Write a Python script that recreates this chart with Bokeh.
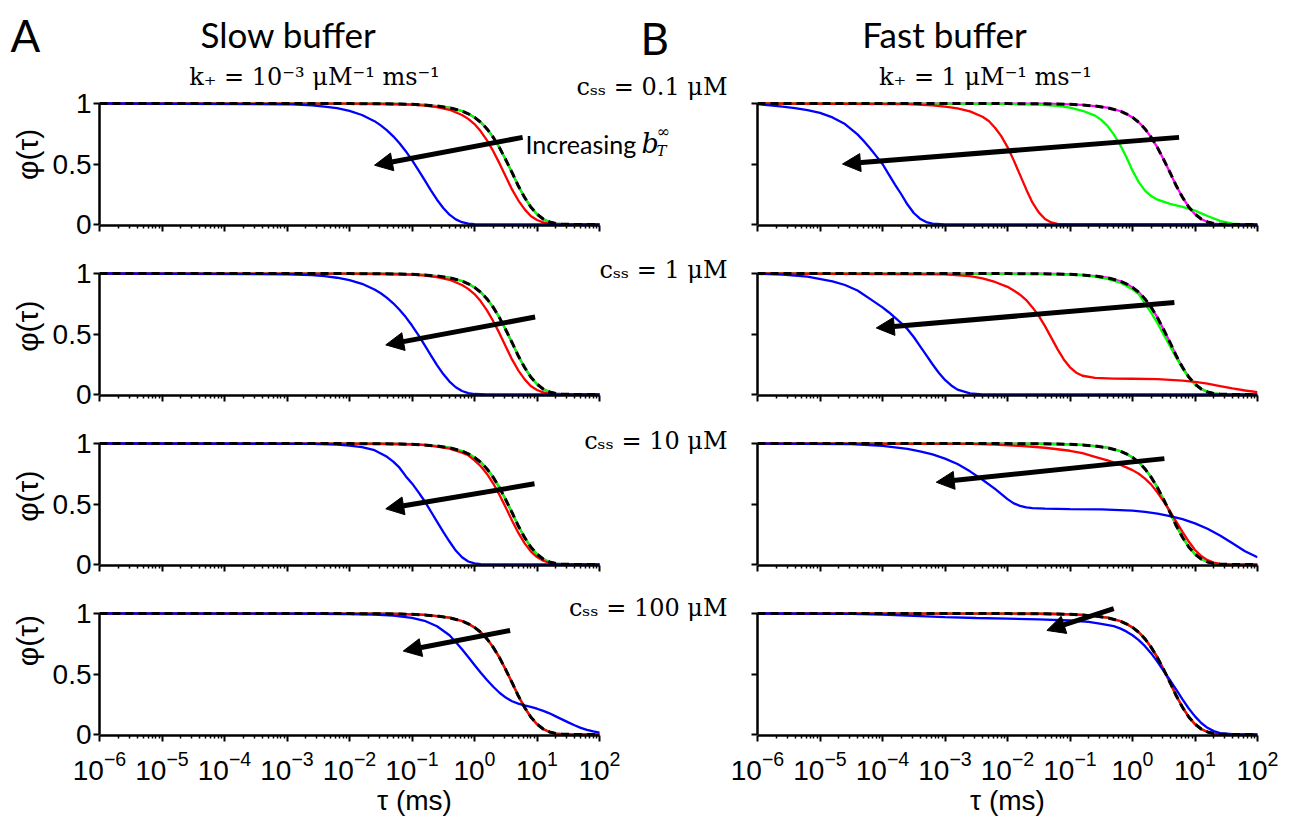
from bokeh.plotting import figure
from bokeh.models import Range1d, FixedTicker, Label, Arrow, NormalHead, NumeralTickFormatter
from bokeh.layouts import column, row
from bokeh.embed import file_html
from bokeh.resources import INLINE

# ---------------- data (log10 tau in ms, phi) ----------------
X_TICKS = [1e-6, 1e-5, 1e-4, 1e-3, 1e-2, 1e-1, 1e0, 1e1, 1e2]
Y_TICKS = [0, 0.5, 1]

BLACK_T = [-6, -2.0, -1.5, -1.2, -1.0, -0.8, -0.6, -0.4, -0.2, -0.1, 0.0, 0.1, 0.2, 0.3, 0.4, 0.5,
           0.6, 0.7, 0.8, 0.9, 1.0, 1.1, 1.2, 1.3, 1.4, 1.6, 2.0]
BLACK_PHI = [1.0, 0.999, 0.998, 0.996, 0.993, 0.988, 0.979, 0.965, 0.938, 0.915, 0.885, 0.845, 0.79,
             0.72, 0.635, 0.535, 0.43, 0.32, 0.225, 0.145, 0.085, 0.045, 0.021, 0.008, 0.003, 0.0, 0.0]

A1_BLUE_T = [-6, -3.0, -2.6, -2.4, -2.2, -2.0, -1.8, -1.6, -1.5, -1.4, -1.3, -1.2, -1.1, -1.0, -0.9,
             -0.8, -0.7, -0.6, -0.5, -0.4, -0.3, -0.2, -0.1, 0.0, 0.2, 2.0]
A1_BLUE = [1.0, 0.994, 0.984, 0.975, 0.961, 0.939, 0.905, 0.854, 0.819, 0.778, 0.729, 0.672, 0.606,
           0.532, 0.452, 0.368, 0.284, 0.205, 0.136, 0.081, 0.042, 0.019, 0.007, 0.002, 0.0, 0.0]
A2_BLUE_T = A1_BLUE_T
A2_BLUE = [1.0, 0.994, 0.986, 0.978, 0.965, 0.945, 0.915, 0.868, 0.837, 0.799, 0.754, 0.701, 0.640,
           0.570, 0.493, 0.410, 0.326, 0.243, 0.169, 0.107, 0.060, 0.029, 0.012, 0.004, 0.0, 0.0]
A3_BLUE_T = [-6, -2.6, -2.2, -2.0, -1.8, -1.6, -1.4, -1.3, -1.2, -1.1, -1.0, -0.9, -0.8, -0.7, -0.6,
             -0.5, -0.4, -0.3, -0.2, -0.1, 0.0, 0.1, 0.2, 2.0]
A3_BLUE = [1.0, 0.997, 0.99, 0.983, 0.97, 0.945, 0.89, 0.85, 0.80, 0.73, 0.67, 0.60, 0.525, 0.44,
           0.355, 0.27, 0.19, 0.115, 0.06, 0.025, 0.009, 0.003, 0.0, 0.0]
A4_BLUE_T = [-6, -3.0, -2.5, -2.0, -1.6, -1.3, -1.0, -0.8, -0.6, -0.4, -0.3, -0.2, -0.1, 0.0, 0.1,
             0.2, 0.3, 0.4, 0.5, 0.6, 0.7, 0.8, 0.9, 1.0, 1.1, 1.2, 1.3, 1.4, 1.5, 1.6, 1.7, 1.8, 1.9, 2.0]
A4_BLUE = [1.0, 0.999, 0.998, 0.995, 0.99, 0.982, 0.963, 0.94, 0.895, 0.82, 0.765, 0.705, 0.64, 0.575,
           0.51, 0.45, 0.395, 0.345, 0.305, 0.275, 0.255, 0.24, 0.228, 0.213, 0.195, 0.175, 0.15,
           0.125, 0.1, 0.076, 0.055, 0.038, 0.025, 0.015]

A_RED_T = [-6, -2.0, -1.2, -1.0, -0.8, -0.6, -0.4, -0.2, -0.1, 0.0, 0.1, 0.2, 0.3, 0.4, 0.5, 0.6, 0.7,
           0.8, 0.9, 1.0, 1.1, 1.2, 1.3, 1.5, 2.0]
A1_RED = [1.0, 0.999, 0.994, 0.990, 0.983, 0.970, 0.948, 0.905, 0.873, 0.83, 0.77, 0.695, 0.605,
          0.505, 0.397, 0.29, 0.20, 0.127, 0.07, 0.037, 0.017, 0.006, 0.002, 0.0, 0.0]
A2_RED = A1_RED
A3_RED = [1.0, 0.999, 0.996, 0.994, 0.986, 0.975, 0.958, 0.925, 0.903, 0.861, 0.812, 0.748, 0.669,
          0.575, 0.472, 0.364, 0.263, 0.177, 0.109, 0.061, 0.031, 0.013, 0.005, 0.0, 0.0]

B1_BLUE_T = [-6, -5.8, -5.6, -5.4, -5.2, -5.0, -4.8, -4.6, -4.4, -4.3, -4.2, -4.1, -4.0, -3.9, -3.8,
             -3.7, -3.6, -3.5, -3.4, -3.3, -3.2, -3.0, -2.8, 2.0]
B1_BLUE = [0.994, 0.985, 0.975, 0.962, 0.945, 0.922, 0.885, 0.83, 0.745, 0.69, 0.63, 0.565, 0.50,
           0.415, 0.33, 0.25, 0.165, 0.095, 0.048, 0.02, 0.007, 0.001, 0.0, 0.0]
B1_RED_T = [-6, -3.6, -3.2, -3.0, -2.8, -2.6, -2.4, -2.3, -2.2, -2.1, -2.0, -1.9, -1.8, -1.7, -1.6,
            -1.5, -1.4, -1.3, -1.2, -1.0, 2.0]
B1_RED = [1.0, 0.995, 0.985, 0.975, 0.96, 0.935, 0.89, 0.855, 0.80, 0.73, 0.64, 0.53, 0.41, 0.29,
          0.18, 0.10, 0.045, 0.017, 0.005, 0.0, 0.0]
B1_GREEN_T = [-6, -2.0, -1.5, -1.2, -1.0, -0.8, -0.6, -0.5, -0.4, -0.3, -0.2, -0.1, 0.0, 0.1, 0.2,
              0.3, 0.4, 0.6, 0.8, 1.0, 1.2, 1.4, 1.6, 1.8, 2.0]
B1_GREEN = [1.0, 0.997, 0.99, 0.98, 0.965, 0.94, 0.90, 0.865, 0.815, 0.745, 0.66, 0.56, 0.445, 0.35,
            0.28, 0.235, 0.205, 0.17, 0.145, 0.115, 0.07, 0.03, 0.008, 0.001, 0.0]

B2_BLUE_T = [-6, -5.6, -5.2, -4.8, -4.6, -4.4, -4.2, -4.0, -3.9, -3.8, -3.7, -3.6, -3.5, -3.4, -3.3,
             -3.2, -3.1, -3.0, -2.9, -2.8, -2.6, -2.4, 2.0]
B2_BLUE = [0.998, 0.99, 0.975, 0.935, 0.905, 0.86, 0.79, 0.72, 0.68, 0.635, 0.59, 0.54, 0.475, 0.40,
           0.325, 0.25, 0.18, 0.12, 0.075, 0.04, 0.01, 0.0, 0.0]
B2_RED_T = [-6, -3.0, -2.6, -2.4, -2.2, -2.0, -1.9, -1.8, -1.7, -1.6, -1.5, -1.4, -1.3, -1.2, -1.1,
            -1.0, -0.9, -0.8, -0.6, -0.3, 0.0, 0.4, 0.8, 1.0, 1.2, 1.4, 1.6, 1.8, 2.0]
B2_RED = [1.0, 0.993, 0.978, 0.96, 0.93, 0.89, 0.86, 0.825, 0.78, 0.72, 0.65, 0.565, 0.47, 0.375,
          0.29, 0.225, 0.18, 0.155, 0.138, 0.132, 0.13, 0.127, 0.115, 0.105, 0.09, 0.07, 0.05, 0.033, 0.02]
B2_GREEN_T = [-6, -1.5, -1.0, -0.8, -0.6, -0.4, -0.2, 0.0, 0.1, 0.2, 0.3, 0.4, 0.5, 0.6, 0.7, 0.8,
              0.9, 1.0, 1.1, 1.2, 1.3, 1.4, 1.6, 2.0]
B2_GREEN = [1.0, 0.997, 0.99, 0.985, 0.975, 0.955, 0.925, 0.87, 0.83, 0.75, 0.675, 0.59, 0.495, 0.40,
            0.305, 0.215, 0.14, 0.085, 0.048, 0.024, 0.01, 0.004, 0.0, 0.0]

B3_BLUE_T = [-6, -4.5, -4.0, -3.6, -3.4, -3.2, -3.0, -2.8, -2.6, -2.4, -2.2, -2.0, -1.9, -1.8, -1.7,
             -1.6, -1.4, -1.0, -0.5, 0.0, 0.2, 0.4, 0.6, 0.8, 1.0, 1.2, 1.4, 1.6, 1.8, 2.0]
B3_BLUE = [1.0, 0.995, 0.98, 0.955, 0.935, 0.91, 0.875, 0.83, 0.77, 0.70, 0.625, 0.54, 0.505, 0.485,
           0.472, 0.466, 0.461, 0.458, 0.455, 0.445, 0.435, 0.42, 0.40, 0.375, 0.34, 0.295, 0.24,
           0.175, 0.11, 0.06]
B3_RED_T = [-6, -2.6, -2.2, -1.8, -1.4, -1.0, -0.8, -0.6, -0.4, -0.2, 0.0, 0.1, 0.2, 0.3, 0.4, 0.5,
            0.6, 0.7, 0.8, 0.9, 1.0, 1.1, 1.2, 1.3, 1.4, 1.6, 2.0]
B3_RED = [1.0, 0.997, 0.99, 0.98, 0.965, 0.94, 0.92, 0.89, 0.86, 0.825, 0.78, 0.75, 0.71, 0.66, 0.595,
          0.52, 0.44, 0.355, 0.27, 0.19, 0.12, 0.07, 0.036, 0.016, 0.006, 0.001, 0.0]

B4_BLUE_T = [-6, -4.5, -4.0, -3.5, -3.0, -2.5, -2.0, -1.5, -1.0, -0.7, -0.5, -0.3, -0.2, -0.1, 0.0,
             0.1, 0.2, 0.3, 0.4, 0.5, 0.6, 0.7, 0.8, 0.9, 1.0, 1.1, 1.2, 1.3, 1.4, 1.6, 2.0]
B4_BLUE = [1.0, 0.997, 0.99, 0.98, 0.97, 0.963, 0.957, 0.951, 0.942, 0.93, 0.915, 0.895, 0.877, 0.852,
           0.82, 0.78, 0.73, 0.67, 0.60, 0.525, 0.45, 0.37, 0.29, 0.215, 0.15, 0.095, 0.055, 0.028,
           0.012, 0.002, 0.0]

# arrows: (log tau tail, phi tail, log tau tip, phi tip)
ARROWS_A = [(0.77, 0.72, -1.6, 0.49), (0.97, 0.64, -1.42, 0.41), (0.96, 0.667, -1.42, 0.46),
            (0.57, 0.86, -1.14, 0.69)]
ARROWS_B = [(0.745, 0.72, -4.64, 0.50), (0.67, 0.76, -4.10, 0.55), (0.51, 0.875, -3.14, 0.68),
            (-0.30, 1.04, -1.37, 0.86)]

CSS_LABELS = ["c\u209b\u209b = 0.1 \u03bcM", "c\u209b\u209b = 1 \u03bcM",
              "c\u209b\u209b = 10 \u03bcM", "c\u209b\u209b = 100 \u03bcM"]

# ---------------- layout geometry (screenshot pixels) ----------------
ROW_TOP = [0, 239, 409, 579]      # canvas top of each row
Y1_PX = [103, 273, 443, 613]      # pixel row of phi = 1
PX_PER_PHI = 121
BOTTOM = [14, 14, 14, 85]         # bottom border (x axis)
STRIP_W = 46                      # 0 .. 46
LEFT_MB, LEFT_FW = 53, 630        # left figure: frame 99 .. 729
RIGHT_MB, RIGHT_FW, RIGHT_MR = 28, 500, 32   # right figure: frame 757 .. 1257
FL = [99, 757]
DEC_PX = 62.5

MAG, GRN, RED, BLU = "#ff00ff", "#00ff00", "#ff0000", "#0000ff"


def taus(lt):
    return [10.0 ** v for v in lt]


def y_range_for(r):
    frame_bottom = Y1_PX[r] + PX_PER_PHI + 1
    top = 1 + (Y1_PX[r] - ROW_TOP[r]) / PX_PER_PHI
    bot = -1.0 / PX_PER_PHI
    return Range1d(bot, top), int(frame_bottom - ROW_TOP[r])


def to_data(px, py, col, r):
    return 10.0 ** (-6 + (px - FL[col]) / DEC_PX), 1 - (py - Y1_PX[r]) / PX_PER_PHI


def label(p, x, y, text, size, font="Lato", align="left", baseline="alphabetic", style="normal", angle=0):
    p.add_layout(Label(x=x, y=y, text=text, text_font=font, text_font_size=f"{size}px",
                       text_align=align, text_baseline=baseline, text_font_style=style,
                       angle=angle, angle_units="deg", text_color="black"))


def text_at(p, col, r, px, py, text, size, **kw):
    x, y = to_data(px, py, col, r)
    label(p, x, y, text, size, **kw)


def style_axes(p, col, r):
    p.grid.visible = False
    p.outline_line_color = None
    minor = [m * 10.0 ** e for e in range(-6, 2) for m in range(2, 10)]
    p.xaxis.ticker = FixedTicker(ticks=X_TICKS, minor_ticks=minor)
    p.xaxis.bounds = (1e-6, 1e2)
    p.yaxis.ticker = FixedTicker(ticks=Y_TICKS)
    p.yaxis.bounds = (0, 1)
    p.yaxis.formatter = NumeralTickFormatter(format="0.[0]")
    for ax in (p.xaxis[0], p.yaxis[0]):
        ax.axis_line_width = 2.5
        ax.axis_line_color = "black"
        ax.major_tick_line_width = 2
        ax.major_tick_line_color = "black"
        ax.major_tick_in = 0
        ax.major_tick_out = 6
        ax.minor_tick_in = 0
        ax.minor_tick_out = 3
        ax.minor_tick_line_width = 1.5
        ax.minor_tick_line_color = "black"
    p.yaxis.minor_tick_line_color = None
    p.xaxis.major_label_text_font = "Liberation Sans"
    if r == 3:
        p.xaxis.major_label_text_font_size = "28px"
        p.xaxis.major_label_text_color = "black"
        p.xaxis.major_label_standoff = 9
        p.xaxis.axis_label = "\u03c4 (ms)"
        p.xaxis.axis_label_text_font = "Liberation Sans"
        p.xaxis.axis_label_text_font_size = "28px"
        p.xaxis.axis_label_text_font_style = "normal"
        p.xaxis.axis_label_text_color = "black"
        p.xaxis.axis_label_standoff = 2
    else:
        p.xaxis.major_label_text_font_size = "2px"
        p.xaxis.major_label_text_alpha = 0
        p.xaxis.major_label_standoff = 0
    p.yaxis.major_label_text_font = "Liberation Sans"
    if col == 0:
        p.yaxis.major_label_text_font_size = "28px"
        p.yaxis.major_label_text_color = "black"
        p.yaxis.major_label_standoff = 2
    else:
        p.yaxis.major_label_text_font_size = "2px"
        p.yaxis.major_label_text_alpha = 0
        p.yaxis.major_label_standoff = 0


def make_fig(col, r):
    yr, fh = y_range_for(r)
    if col == 0:
        xr = Range1d(1e-6, 10 ** (2 + (LEFT_FW - 500) / DEC_PX))
        mbl, fw, mbr = LEFT_MB, LEFT_FW, 0
    else:
        xr = Range1d(1e-6, 1e2)
        mbl, fw, mbr = RIGHT_MB, RIGHT_FW, RIGHT_MR
    p = figure(width=mbl + fw + mbr, height=fh + BOTTOM[r], x_axis_type="log",
               x_range=xr, y_range=yr,
               min_border_left=mbl, min_border_right=mbr, min_border_top=0, min_border_bottom=BOTTOM[r],
               output_backend="svg", toolbar_location=None, tools="")
    style_axes(p, col, r)
    return p


def draw(p, curves, arrow):
    for color, lt, ph in curves:
        p.line(taus(lt), ph, line_color=color, line_width=2.3)
    p.line(taus(BLACK_T), BLACK_PHI, line_color="black", line_width=3, line_dash="8 5")
    t0, p0, t1, p1 = arrow
    p.add_layout(Arrow(end=NormalHead(size=18, fill_color="black", line_color="black", line_width=1),
                       x_start=10 ** t0, y_start=p0, x_end=10 ** t1, y_end=p1,
                       line_width=5, line_color="black"))


def plain_fig(x0, x1, y0, y1):
    p = figure(width=int(x1 - x0), height=int(y1 - y0), x_range=Range1d(x0, x1), y_range=Range1d(y1, y0),
               min_border=0, x_axis_type=None, y_axis_type=None,
               output_backend="svg", toolbar_location=None, tools="")
    p.grid.visible = False
    p.outline_line_color = None
    return p


A_CURVES = [
    [(MAG, BLACK_T, BLACK_PHI), (GRN, BLACK_T, BLACK_PHI), (RED, A_RED_T, A1_RED), (BLU, A1_BLUE_T, A1_BLUE)],
    [(MAG, BLACK_T, BLACK_PHI), (GRN, BLACK_T, BLACK_PHI), (RED, A_RED_T, A2_RED), (BLU, A2_BLUE_T, A2_BLUE)],
    [(MAG, BLACK_T, BLACK_PHI), (GRN, BLACK_T, BLACK_PHI), (RED, A_RED_T, A3_RED), (BLU, A3_BLUE_T, A3_BLUE)],
    [(MAG, BLACK_T, BLACK_PHI), (GRN, BLACK_T, BLACK_PHI), (RED, BLACK_T, BLACK_PHI), (BLU, A4_BLUE_T, A4_BLUE)],
]
B_CURVES = [
    [(MAG, BLACK_T, BLACK_PHI), (GRN, B1_GREEN_T, B1_GREEN), (RED, B1_RED_T, B1_RED), (BLU, B1_BLUE_T, B1_BLUE)],
    [(MAG, BLACK_T, BLACK_PHI), (GRN, B2_GREEN_T, B2_GREEN), (RED, B2_RED_T, B2_RED), (BLU, B2_BLUE_T, B2_BLUE)],
    [(MAG, BLACK_T, BLACK_PHI), (GRN, BLACK_T, BLACK_PHI), (RED, B3_RED_T, B3_RED), (BLU, B3_BLUE_T, B3_BLUE)],
    [(MAG, BLACK_T, BLACK_PHI), (GRN, BLACK_T, BLACK_PHI), (RED, BLACK_T, BLACK_PHI), (BLU, B4_BLUE_T, B4_BLUE)],
]
CSS_BASELINE = [86, 269, 440, 607]

rows = []
for r in range(4):
    pl = make_fig(0, r)
    pr = make_fig(1, r)
    draw(pl, A_CURVES[r], ARROWS_A[r])
    draw(pr, B_CURVES[r], ARROWS_B[r])
    h = pl.height
    strip = plain_fig(0, STRIP_W, ROW_TOP[r], ROW_TOP[r] + h)
    label(strip, 27, Y1_PX[r] + 60.5, "\u03c6(\u03c4)", 30, font="Liberation Sans",
          align="center", baseline="middle", angle=90)
    text_at(pl, 0, r, 727, CSS_BASELINE[r], CSS_LABELS[r], 24, font="DejaVu Serif", align="right")
    if r == 0:
        label(strip, 10, 37, "A", 44)
        text_at(pl, 0, r, 640, 37, "B", 44)
        text_at(pl, 0, r, 288, 33, "Slow buffer", 35, align="center")
        text_at(pl, 0, r, 314, 76, "k\u208a = 10\u207b\u00b3 \u03bcM\u207b\u00b9 ms\u207b\u00b9", 24,
                font="DejaVu Serif", align="center")
        text_at(pr, 1, r, 944, 33, "Fast buffer", 35, align="center")
        text_at(pr, 1, r, 985, 76, "k\u208a = 1 \u03bcM\u207b\u00b9 ms\u207b\u00b9", 24,
                font="DejaVu Serif", align="center")
        text_at(pl, 0, r, 525, 143, "Increasing", 25)
        text_at(pl, 0, r, 641, 143, "b", 27, font="DejaVu Serif", style="italic")
        text_at(pl, 0, r, 656, 131, "\u221e", 16, font="DejaVu Serif")
        text_at(pl, 0, r, 656, 150, "T", 15, font="DejaVu Serif", style="italic")
    rows.append(row(strip, pl, pr))

layout = column(*rows)
open("out.html", "w").write(file_html(layout, INLINE))
